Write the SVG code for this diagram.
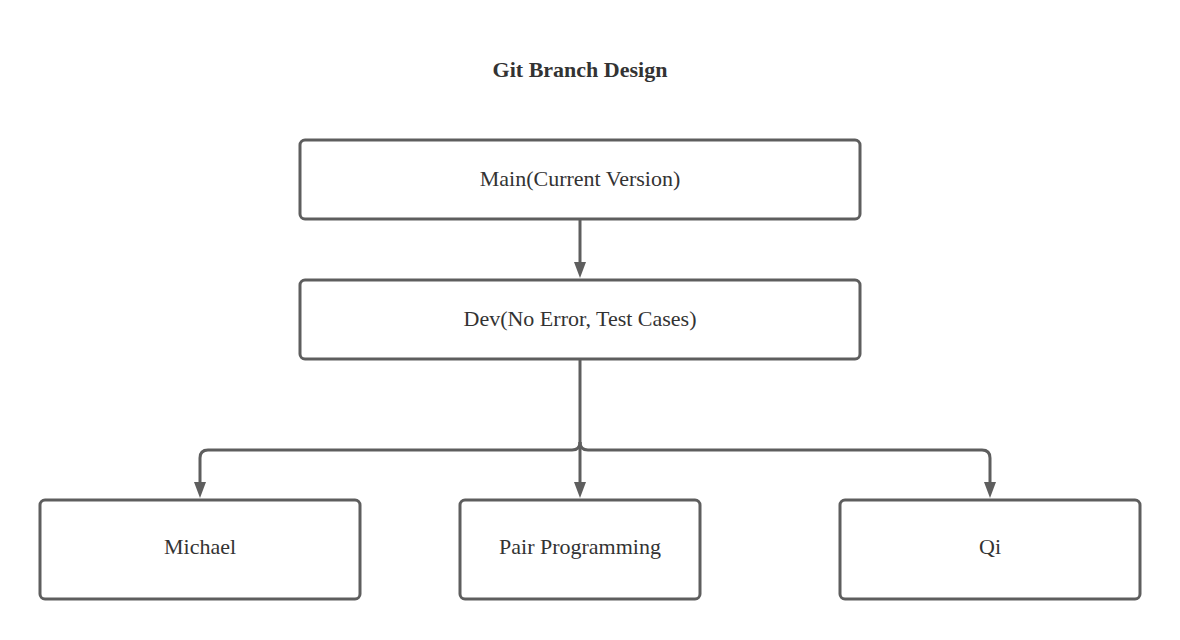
<svg xmlns="http://www.w3.org/2000/svg" width="1180" height="640" viewBox="0 0 1180 640">
<style>
.box{fill:#ffffff;stroke:#5e5e5e;stroke-width:3}
.lbl{font-family:"Liberation Serif",serif;font-size:22px;fill:#333333;text-anchor:middle}
.title{font-family:"Liberation Serif",serif;font-size:22px;font-weight:bold;fill:#333333;text-anchor:middle}
.conn{fill:none;stroke:#5e5e5e;stroke-width:3}
</style>
<rect width="1180" height="640" fill="#ffffff"/>
<text class="title" x="580" y="77">Git Branch Design</text>
<g id="connectors">
<path class="conn" d="M580 220 V262" />
<path d="M574 262 L586 262 L580 278 Z" fill="#5e5e5e"/>
<path class="conn" d="M580 360 V482" />
<path d="M574 482 L586 482 L580 498 Z" fill="#5e5e5e"/>
<path class="conn" d="M580 442 Q580 450 572 450 H208 Q200 450 200 458 V482" />
<path d="M194 482 L206 482 L200 498 Z" fill="#5e5e5e"/>
<path class="conn" d="M580 442 Q580 450 588 450 H982 Q990 450 990 458 V482" />
<path d="M984 482 L996 482 L990 498 Z" fill="#5e5e5e"/>
</g>
<g id="main">
<rect class="box" x="300" y="140" width="560" height="79" rx="5"/>
<text class="lbl" x="580" y="186">Main(Current Version)</text>
</g>
<g id="dev">
<rect class="box" x="300" y="280" width="560" height="79" rx="5"/>
<text class="lbl" x="580" y="326">Dev(No Error, Test Cases)</text>
</g>
<g id="michael">
<rect class="box" x="40" y="500" width="320" height="99" rx="5"/>
<text class="lbl" x="200" y="554">Michael</text>
</g>
<g id="pair">
<rect class="box" x="460" y="500" width="240" height="99" rx="5"/>
<text class="lbl" x="580" y="554">Pair Programming</text>
</g>
<g id="qi">
<rect class="box" x="840" y="500" width="300" height="99" rx="5"/>
<text class="lbl" x="990" y="554">Qi</text>
</g>
</svg>
